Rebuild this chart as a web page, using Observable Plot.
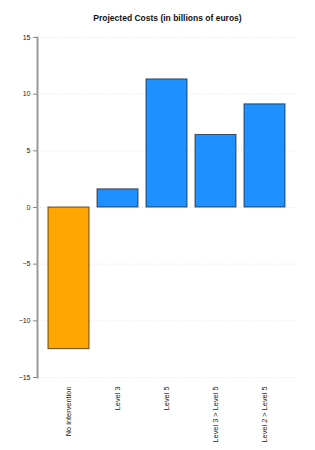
<!DOCTYPE html>
<html>
<head>
<meta charset="utf-8">
<script src="https://cdn.jsdelivr.net/npm/d3@7"></script>
<script src="https://cdn.jsdelivr.net/npm/@observablehq/plot@0.6"></script>
<style>
  body { margin: 0; background: #fff; font-family: "Liberation Sans", Arial, sans-serif; }
  #title { height: 25px; width: 315px; box-sizing: border-box; padding-left: 20px; text-align: center; font-weight: bold; font-size: 8.5px; line-height: 12px; padding-top: 12px; color: #111; }
  svg { display: block; }
</style>
</head>
<body>
<div id="title">Projected Costs (in billions of euros)</div>
<div id="chart"></div>
<script>
const categories = ["No intervention", "Level 3", "Level 5", "Level 3 > Level 5", "Level 2 > Level 5"];
const values = [-12.5, 1.6, 11.3, 6.4, 9.1];
const yTicks = [-15, -10, -5, 0, 5, 10, 15];

const data = categories.map((c, i) => ({category: c, value: values[i]}));

const chart = Plot.plot({
  width: 315,
  height: 425,
  marginTop: 12,
  marginBottom: 73,
  marginLeft: 37,
  marginRight: 19,
  style: {fontFamily: "Liberation Sans, Arial, sans-serif", fontSize: "7px", color: "#222"},
  x: {domain: categories, paddingInner: 0.16, paddingOuter: 0.19, label: null},
  y: {domain: [-15, 15], label: null},
  marks: [
    Plot.gridY(yTicks, {stroke: "#e2e2e2", strokeOpacity: 1, strokeDasharray: "1,2"}),
    Plot.barY(data, {x: "category", y: "value", fill: d => d.value < 0 ? "#FFA500" : "#1E90FF", stroke: "#222", strokeOpacity: 0.75, strokeWidth: 1}),
    Plot.axisY({ticks: yTicks, tickSize: 4, tickPadding: 3, stroke: "#888", label: null}),
    Plot.frame({anchor: "left", stroke: "#9a9a9a", strokeWidth: 2}),
    Plot.axisX({tickRotate: -90, tickSize: 0, tickPadding: 9, fontSize: 7.4, label: null})
  ]
});
document.getElementById("chart").appendChild(chart);
</script>
</body>
</html>
